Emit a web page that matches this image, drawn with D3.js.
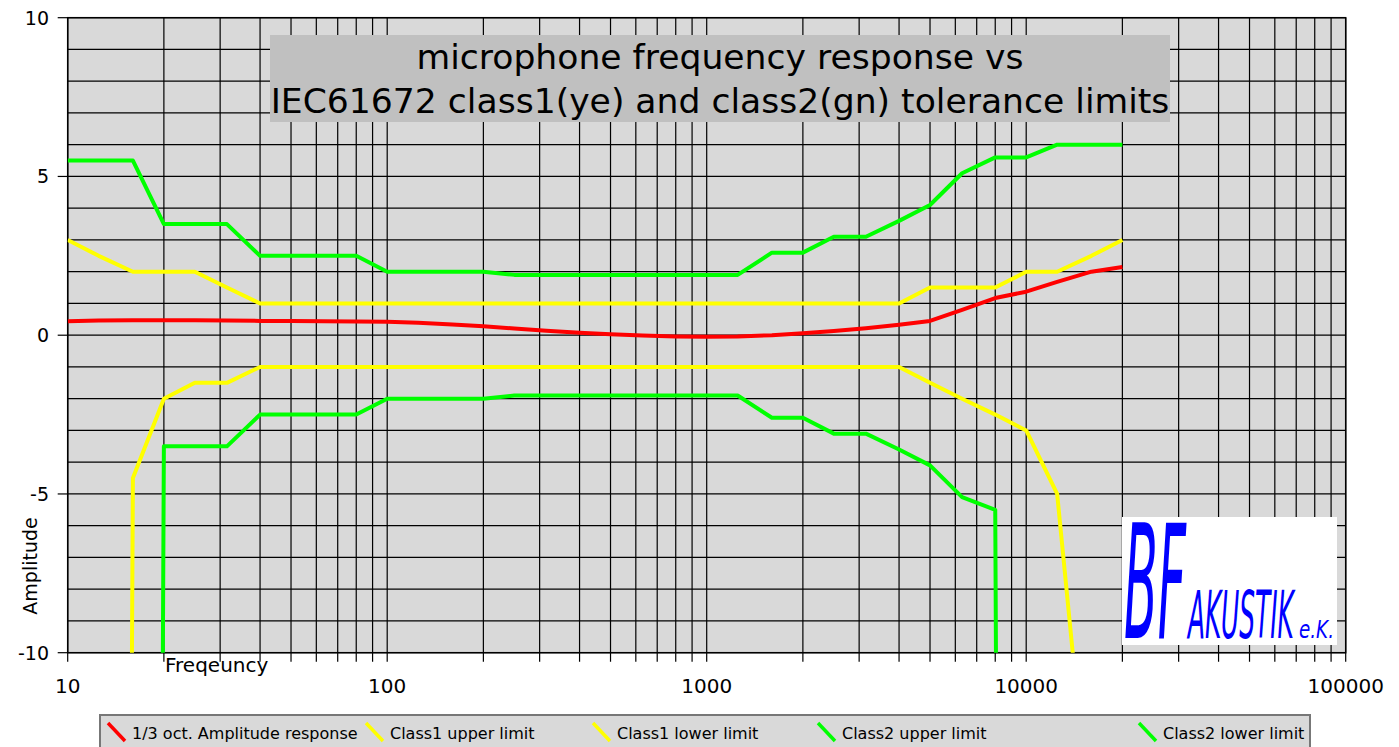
<!DOCTYPE html>
<html>
<head>
<meta charset="utf-8">
<script src="https://cdnjs.cloudflare.com/ajax/libs/d3/7.8.5/d3.min.js"></script>
<style>
  body { margin: 0; background: #fff; }
  text { font-family: "DejaVu Sans", sans-serif; fill: #000; }
</style>
</head>
<body>
<div id="chart"></div>
<script>
// 1/3 octave band centre frequencies (Hz)
var freqs = [10, 12.5, 16, 20, 25, 31.5, 40, 50, 63, 80, 100, 125, 160, 200, 250, 315, 400, 500,
  630, 800, 1000, 1250, 1600, 2000, 2500, 3150, 4000, 5000, 6300, 8000, 10000, 12500, 16000, 20000];

var response = [0.44, 0.46, 0.47, 0.47, 0.47, 0.46, 0.45, 0.45, 0.44, 0.43, 0.42, 0.39, 0.34, 0.28,
  0.21, 0.14, 0.08, 0.03, -0.01, -0.04, -0.05, -0.04, 0.0, 0.06, 0.13, 0.22, 0.33, 0.45, 0.8, 1.17,
  1.37, 1.68, 2.0, 2.15];

// -200 stands for "minus infinity" (drops off the bottom of the chart)
var class1Upper = [3, 2.5, 2, 2, 2, 1.5, 1, 1, 1, 1, 1, 1, 1, 1, 1, 1, 1, 1, 1, 1, 1, 1, 1, 1, 1, 1, 1,
  1.5, 1.5, 1.5, 2, 2, 2.5, 3];
var class1Lower = [null, -200, -4.5, -2, -1.5, -1.5, -1, -1, -1, -1, -1, -1, -1, -1, -1, -1, -1, -1, -1,
  -1, -1, -1, -1, -1, -1, -1, -1, -1.5, -2, -2.5, -3, -5, -16, null];
var class2Upper = [5.5, 5.5, 5.5, 3.5, 3.5, 3.5, 2.5, 2.5, 2.5, 2.5, 2, 2, 2, 2, 1.9, 1.9, 1.9, 1.9,
  1.9, 1.9, 1.9, 1.9, 2.6, 2.6, 3.1, 3.1, 3.6, 4.1, 5.1, 5.6, 5.6, 6, 6, 6];
var class2Lower = [null, null, -200, -3.5, -3.5, -3.5, -2.5, -2.5, -2.5, -2.5, -2, -2, -2, -2, -1.9,
  -1.9, -1.9, -1.9, -1.9, -1.9, -1.9, -1.9, -2.6, -2.6, -3.1, -3.1, -3.6, -4.1, -5.1, -5.5, -200,
  null, null, null];

var seriesNames = ["1/3 oct. Amplitude response", "Class1 upper limit", "Class1 lower limit",
  "Class2 upper limit", "Class2 lower limit"];
var seriesColors = ["#ff0000", "#ffff00", "#ffff00", "#00ff00", "#00ff00"];

var yTicks = [-10, -5, 0, 5, 10];
var xTicks = [10, 100, 1000, 10000, 100000];

var titleLines = ["microphone frequency response vs", "IEC61672 class1(ye) and class2(gn) tolerance limits"];

// squeeze a text horizontally so it fills the given width
function fitText(g, str, x, y, size, width) {
  var t = g.append("text")
      .style("font-size", size + "px").style("font-style", "italic").style("fill", "#0000ff")
      .text(str);
  var len = t.node().getComputedTextLength();
  t.attr("transform", "translate(" + x + "," + y + ") scale(" + (width / len) + ",1)");
  return t;
}

function drawChart() {
  var _width = 1399, _height = 747;
  var pLeft = 67.7, pRight = 1345.7, pTop = 17.7, pBottom = 652.7;

  var svg = d3.select("#chart").append("svg")
      .attr("width", _width)
      .attr("height", _height);

  var x = d3.scaleLog().domain([10, 100000]).range([pLeft, pRight]);
  var y = d3.scaleLinear().domain([-10, 10]).range([pBottom, pTop]);

  // plot background
  svg.append("rect")
      .attr("x", pLeft).attr("y", pTop)
      .attr("width", pRight - pLeft).attr("height", pBottom - pTop)
      .attr("fill", "#d9d9d9");

  // grid lines: every 1 dB, every log minor step
  var gridX = [];
  for (var k = 1; k <= 4; k++) {
    for (var m = 1; m <= 9; m++) gridX.push(m * Math.pow(10, k));
  }
  gridX.push(100000);

  var grid = svg.append("g").attr("class", "grid");
  grid.selectAll("line.h").data(d3.range(-10, 11))
    .enter().append("line")
      .attr("class", "h")
      .attr("x1", pLeft).attr("x2", pRight)
      .attr("y1", function (d) { return y(d); })
      .attr("y2", function (d) { return y(d); })
      .attr("stroke", "#000").attr("stroke-width", 1.2);

  grid.selectAll("line.v").data(gridX)
    .enter().append("line")
      .attr("class", "v")
      .attr("y1", pTop).attr("y2", pBottom + 9)
      .attr("x1", function (d) { return x(d); })
      .attr("x2", function (d) { return x(d); })
      .attr("stroke", "#000").attr("stroke-width", 1.2);

  // left ticks at major values
  grid.selectAll("line.yt").data(yTicks)
    .enter().append("line")
      .attr("class", "yt")
      .attr("x1", pLeft - 10).attr("x2", pLeft)
      .attr("y1", function (d) { return y(d); })
      .attr("y2", function (d) { return y(d); })
      .attr("stroke", "#000").attr("stroke-width", 1.2);

  // frame
  svg.append("rect")
      .attr("x", pLeft).attr("y", pTop)
      .attr("width", pRight - pLeft).attr("height", pBottom - pTop)
      .attr("fill", "none").attr("stroke", "#000").attr("stroke-width", 1.5);

  // tick labels
  svg.selectAll("text.ylab").data(yTicks)
    .enter().append("text")
      .attr("class", "ylab")
      .attr("x", 49)
      .attr("y", function (d) { return y(d) + 7; })
      .attr("text-anchor", "end")
      .style("font-size", "19px")
      .text(function (d) { return d; });

  svg.selectAll("text.xlab").data(xTicks)
    .enter().append("text")
      .attr("class", "xlab")
      .attr("x", function (d) { return x(d); })
      .attr("y", 693)
      .attr("text-anchor", "middle")
      .style("font-size", "20px")
      .text(function (d) { return d; });

  // axis titles
  svg.append("text")
      .attr("transform", "translate(37,566) rotate(-90)")
      .attr("text-anchor", "middle")
      .style("font-size", "19px")
      .text("Amplitude");

  svg.append("text")
      .attr("x", 165).attr("y", 672)
      .style("font-size", "20px")
      .text("Freqeuncy");

  // title box
  svg.append("rect")
      .attr("x", 270).attr("y", 35)
      .attr("width", 900).attr("height", 87)
      .attr("fill", "#c0c0c0");

  svg.selectAll("text.title").data(titleLines)
    .enter().append("text")
      .attr("class", "title")
      .attr("x", 720)
      .attr("y", function (d, i) { return 69 + i * 44; })
      .attr("text-anchor", "middle")
      .style("font-size", "34.6px")
      .text(function (d) { return d; });

  // series
  svg.append("clipPath").attr("id", "plotClip")
    .append("rect")
      .attr("x", pLeft).attr("y", pTop)
      .attr("width", pRight - pLeft).attr("height", pBottom - pTop);

  var allSeries = [response, class1Upper, class1Lower, class2Upper, class2Lower];

  var line = d3.line()
      .defined(function (d) { return d.v !== null; })
      .x(function (d) { return x(d.f); })
      .y(function (d) { return y(d.v); });

  var plot = svg.append("g").attr("clip-path", "url(#plotClip)");

  // draw limits first, response on top
  [3, 4, 1, 2, 0].forEach(function (i) {
    var pts = freqs.map(function (f, j) { return {f: f, v: allSeries[i][j]}; });
    plot.append("path")
        .datum(pts)
        .attr("d", line)
        .attr("fill", "none")
        .attr("stroke", seriesColors[i])
        .attr("stroke-width", 4)
        .attr("stroke-linejoin", "round");
  });

  // logo
  var logo = svg.append("g").attr("class", "logo");
  logo.append("rect")
      .attr("x", 1122).attr("y", 517)
      .attr("width", 215).attr("height", 128)
      .attr("fill", "#fff");
  fitText(logo, "BF", 1124, 638, 158, 62);
  fitText(logo, "AKUSTIK", 1188, 638, 66, 106);
  fitText(logo, "e.K.", 1299, 638, 24, 35);

  // legend
  var legendX = [105, 363, 590, 815, 1136];
  var legend = svg.append("g").attr("class", "legend");
  legend.append("rect")
      .attr("x", 100).attr("y", 715)
      .attr("width", 1210).attr("height", 45)
      .attr("fill", "#d9d9d9")
      .attr("stroke", "#777").attr("stroke-width", 2);

  var items = legend.selectAll("g.item").data(seriesNames)
    .enter().append("g")
      .attr("class", "item")
      .attr("transform", function (d, i) { return "translate(" + legendX[i] + ",0)"; });

  items.append("line")
      .attr("x1", 3).attr("y1", 723)
      .attr("x2", 20).attr("y2", 741)
      .attr("stroke", function (d, i) { return seriesColors[i]; })
      .attr("stroke-width", 3.5);

  items.append("text")
      .attr("x", 27).attr("y", 739)
      .style("font-size", "16px")
      .text(function (d) { return d; });
}

drawChart();
</script>
</body>
</html>
